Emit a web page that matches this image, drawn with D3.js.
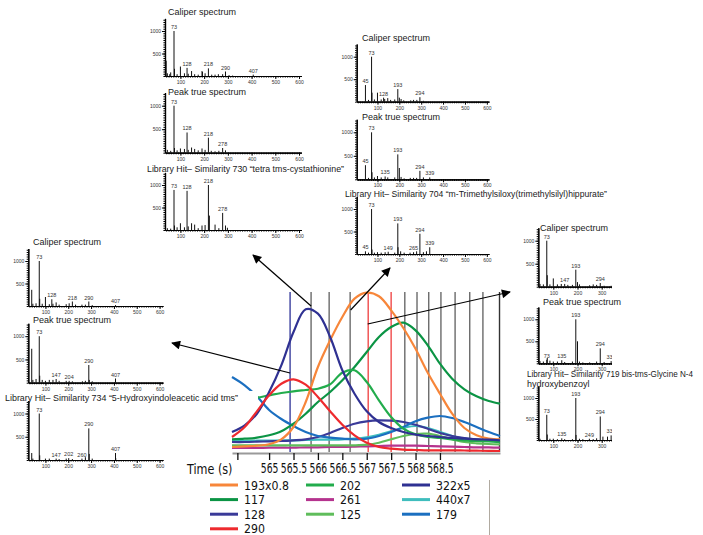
<!DOCTYPE html>
<html>
<head>
<meta charset="utf-8">
<script src="https://cdn.jsdelivr.net/npm/d3@7"></script>
<style>
body { margin: 0; background: #fff; }
svg { display: block; }
</style>
</head>
<body>
<svg width="703" height="535"></svg>
<script>
const WIDTH = 703
const HEIGHT = 535

// ion traces, sampled on one time grid (s)
const times = [564.24, 564.5, 564.75, 565, 565.25, 565.5, 565.75, 566, 566.25, 566.5, 566.75, 567, 567.25, 567.5, 567.75, 568, 568.25, 568.5, 568.75, 569, 569.25, 569.5, 569.73]
const ion193 = [5, 5.7, 6.3, 7.7, 12.7, 25, 50, 85, 111.7, 135, 153.3, 159.3, 155.7, 141.7, 124, 103.3, 79.3, 58.3, 38.3, 24, 16.7, 13.3, 12.7]
const ion117 = [12.7, 13.3, 14.3, 16.7, 20.7, 28.3, 38.3, 50, 60, 71.7, 85, 100, 115, 125, 129.3, 121.7, 106.7, 88.3, 73.3, 62.7, 55.7, 51, 48.3]
const ion128 = [10, 10, 10.3, 10.7, 11, 11.7, 12.7, 15, 19, 24, 28.3, 30.7, 31.7, 31.3, 30, 27.3, 23.3, 19, 16, 14, 12.7, 12, 11.3]
const ion290 = [15, 25, 40.7, 56.7, 68.3, 72.7, 67.3, 55, 40.7, 27.3, 16.7, 9.3, 5, 3.3, 2.3, 2, 1.7, 1.7, 1.7, 1.5, 1.3, 1.2, 1]
const ion202 = [51.7, 52.7, 54.3, 56.7, 59, 60.7, 62, 63.3, 67.7, 79.3, 81.7, 70, 51.7, 35, 23.3, 17.7, 15, 14, 12.7, 11.7, 11, 10.7, 10]
const ion261 = [4, 4, 4, 4.3, 4.3, 4.3, 4.7, 4.7, 5, 5, 5.3, 5.7, 6, 6.3, 6.3, 6.3, 6, 5.7, 5.3, 5, 4.7, 4.7, 4.3]
const ion125 = [6.7, 6.7, 6.7, 6.7, 6.7, 6.7, 6.7, 6.7, 6.7, 6.7, 6.7, 7.3, 9.3, 12.7, 16, 18, 18.3, 16, 12.7, 10, 8.7, 8, 7.7]
const ion322 = [20, 26.7, 38.3, 60, 86.7, 120, 142.7, 138.3, 115, 81.7, 58.3, 40.7, 30, 24, 20, 17.3, 16, 15, 14, 13.3, 12.7, 12.3, 11.7]
const ion440 = [11, 11, 11.3, 11.3, 11.7, 11.7, 12, 12.3, 12.3, 12.7, 13.3, 14.7, 17.3, 20.7, 24, 26, 24, 20, 16, 13.3, 11.7, 11, 10.7]
const ion179 = [75, 66.7, 55.7, 42, 33, 26, 20, 16, 14.3, 13.3, 12.7, 13.3, 16, 20, 25, 30.7, 34.3, 36, 34, 30, 25, 20, 16]

const traceNames = ['193x0.8', '117', '128', '290', '202', '261', '125', '322x5', '440x7', '179']
const traces = [ion193, ion117, ion128, ion290, ion202, ion261, ion125, ion322, ion440, ion179]
const traceColors = ['#f7863a', '#0b9444', '#3a3a98', '#ee2a2e', '#22ac4c', '#b5338e', '#5fbd5b', '#2f3192', '#3fbdbd', '#1b6fc0']
const drawOrder = [5, 6, 8, 2, 9, 1, 4, 0, 7, 3]

// scan cut positions (s)
const cutTimes = [565.43, 565.86, 566.23, 566.66, 567.03, 567.5, 567.78, 568.03, 568.27, 568.52, 568.81, 569.11, 569.38, 569.72]
const cutColors = ['#3b3f9e', '#6a6a6a', '#6a6a6a', '#6a6a6a', '#f04a4a', '#f04a4a', '#6a6a6a', '#6a6a6a', '#6a6a6a', '#6a6a6a', '#6a6a6a', '#6a6a6a', '#6a6a6a', '#333']
const timeTicks = [565, 565.5, 566, 566.5, 567, 567.5, 568, 568.5]

// spectra: [m/z, intensity]
const tlCal = [[40, 340], [45, 60], [55, 40], [59, 80], [73, 1000], [75, 160], [86, 40], [100, 210], [117, 60], [128, 180], [133, 50], [147, 110], [160, 40], [175, 30], [191, 110], [193, 90], [204, 60], [218, 170], [232, 30], [246, 30], [260, 40], [278, 40], [290, 100], [305, 20], [320, 10], [407, 30]]
const tlTrue = [[45, 60], [59, 40], [73, 1000], [75, 100], [86, 50], [100, 90], [117, 80], [128, 430], [133, 60], [147, 110], [160, 80], [175, 50], [191, 90], [204, 60], [218, 320], [230, 40], [246, 30], [262, 40], [278, 100], [290, 50]]
const tlLib = [[45, 40], [59, 30], [73, 890], [75, 100], [86, 60], [100, 150], [117, 60], [128, 870], [133, 80], [147, 150], [160, 120], [175, 40], [191, 100], [204, 110], [218, 1000], [222, 320], [246, 120], [262, 40], [278, 380], [290, 100], [298, 50]]
const tmCal = [[45, 370], [59, 40], [73, 1000], [75, 200], [86, 50], [100, 200], [117, 50], [128, 90], [133, 60], [147, 80], [160, 40], [179, 50], [193, 280], [200, 90], [208, 60], [220, 30], [252, 30], [265, 40], [280, 40], [294, 100], [310, 20]]
const tmTrue = [[45, 300], [59, 30], [73, 1000], [75, 150], [86, 40], [100, 70], [117, 40], [135, 60], [147, 40], [179, 40], [193, 530], [200, 240], [208, 50], [222, 20], [250, 30], [265, 30], [279, 30], [294, 180], [310, 40], [339, 40]]
const tmLib = [[45, 60], [59, 30], [73, 1000], [75, 100], [86, 30], [100, 40], [117, 30], [135, 40], [149, 50], [179, 30], [193, 680], [194, 150], [206, 60], [222, 30], [249, 30], [265, 40], [279, 60], [294, 450], [310, 40], [324, 60], [339, 150]]
const lCal = [[40, 360], [45, 50], [59, 60], [73, 1000], [75, 160], [86, 50], [100, 200], [117, 40], [128, 150], [133, 50], [147, 80], [160, 30], [191, 40], [204, 60], [218, 100], [232, 30], [260, 30], [275, 30], [290, 100], [305, 20], [407, 20]]
const lTrue = [[40, 730], [45, 60], [59, 80], [73, 1000], [75, 150], [86, 60], [100, 40], [117, 60], [133, 60], [147, 80], [160, 40], [191, 40], [204, 40], [218, 30], [262, 30], [275, 40], [290, 380], [292, 60], [305, 30], [407, 90]]
const lLib = [[40, 150], [45, 30], [73, 1000], [75, 100], [100, 30], [117, 30], [147, 30], [160, 20], [191, 30], [202, 40], [218, 20], [260, 30], [275, 60], [290, 680], [292, 130], [305, 30], [407, 150], [408, 40]]
const rCal = [[40, 400], [45, 60], [59, 50], [73, 1000], [75, 250], [86, 50], [100, 180], [117, 50], [133, 60], [147, 60], [160, 40], [179, 40], [193, 370], [200, 100], [208, 50], [250, 30], [265, 50], [279, 40], [294, 80], [310, 20], [339, 20]]
const rTrue = [[40, 300], [45, 50], [59, 40], [73, 80], [75, 120], [86, 60], [100, 40], [117, 40], [135, 70], [147, 30], [179, 40], [193, 1000], [200, 500], [208, 40], [222, 20], [250, 20], [279, 40], [294, 340], [310, 30], [339, 50]]
const rLib = [[45, 30], [73, 600], [75, 130], [86, 30], [100, 30], [117, 20], [135, 40], [147, 20], [179, 20], [193, 1000], [194, 120], [208, 30], [222, 20], [249, 30], [265, 20], [279, 40], [294, 560], [305, 80], [324, 80], [339, 110]]

const tlCalLabels = [73, 128, 218, 290, 407]
const tlTrueLabels = [73, 128, 218, 278]
const tlLibLabels = [73, 128, 218, 278]
const tmCalLabels = [45, 73, 128, 193, 294]
const tmTrueLabels = [45, 73, 135, 193, 294, 339]
const tmLibLabels = [45, 73, 149, 193, 265, 294, 339]
const lCalLabels = [73, 128, 218, 290, 407]
const lTrueLabels = [73, 147, 204, 290, 407]
const lLibLabels = [73, 147, 202, 260, 290, 407]
const rCalLabels = [73, 147, 193, 294]
const rTrueLabels = [73, 135, 193, 294, 339]
const rLibLabels = [73, 135, 193, 249, 294, 339]

const mzTicks = [100, 200, 300, 400, 500, 600]
const intTicks = [500, 1000]

const SANS = 'Liberation Sans, Arial, sans-serif'
const VERD = 'DejaVu Sans, Verdana, sans-serif'

const svg = d3.select('svg')

const defs = svg.append('defs')
defs.append('marker')
    .attr('id', 'head')
    .attr('viewBox', '0 0 10 10')
    .attr('refX', 9).attr('refY', 5)
    .attr('markerWidth', 10).attr('markerHeight', 9)
    .attr('markerUnits', 'userSpaceOnUse')
    .attr('orient', 'auto')
    .append('path').attr('d', 'M0,0L10,5L0,10Z').attr('fill', '#000')
defs.append('clipPath').attr('id', 'rclip')
    .append('rect').attr('x', 500).attr('y', 215).attr('width', 112).attr('height', 250)

// ---- main chart
const x = d3.scaleLinear().domain([564.24, 569.73]).range([232, 500])
const y = d3.scaleLinear().domain([0, 160]).range([452, 292])

svg.append('g')
    .selectAll('line')
    .data(cutTimes)
    .enter().append('line')
    .attr('x1', d => x(d)).attr('x2', d => x(d))
    .attr('y1', y(160)).attr('y2', y(0))
    .attr('stroke', (d, i) => cutColors[i])
    .attr('stroke-width', 1.4)

const line = d3.line()
    .x((d, i) => x(times[i]))
    .y(d => y(d))
    .curve(d3.curveCatmullRom.alpha(0.5))

svg.append('g')
    .attr('fill', 'none')
    .attr('stroke-width', 2.2)
    .selectAll('path')
    .data(drawOrder)
    .enter().append('path')
    .attr('d', i => line(traces[i]))
    .attr('stroke', i => traceColors[i])

const xAxis = svg.append('g')
    .attr('transform', `translate(0,${y(0) + 1})`)
    .call(d3.axisBottom(x).tickValues([564.35].concat(timeTicks)).tickSize(7).tickSizeOuter(0)
        .tickFormat(d => timeTicks.includes(d) ? String(d) : ''))
xAxis.select('.domain').attr('stroke', '#9a9a9a').attr('stroke-width', 2)
xAxis.selectAll('.tick line').attr('stroke', '#111').attr('stroke-width', 1.3)
xAxis.selectAll('.tick text')
    .attr('font-family', VERD).attr('font-size', 14).attr('fill', '#111')
    .attr('y', 10)
    .attr('transform', 'scale(0.66,1)')

svg.append('text')
    .attr('transform', 'translate(187,473.5) scale(0.8,1)')
    .attr('font-family', VERD).attr('font-size', 14).attr('fill', '#111')
    .text('Time (s)')

// white box behind the left library title
svg.append('rect').attr('x', 0).attr('y', 391).attr('width', 258).attr('height', 13).attr('fill', '#fff')

// ---- spectra
const spectrum = function(s) {
    const g = svg.append('g')
    if (s.clip) g.attr('clip-path', 'url(#rclip)')
    const sx = d3.scaleLinear().domain(s.mz).range([s.x0, s.x1])
    const sy = d3.scaleLinear().domain([0, 1280]).range([s.base, s.base - s.k * 1.28])
    const start = Math.ceil(s.mz[0] / 10) * 10

    g.append('g').attr('transform', `translate(0,${s.base})`)
        .call(d3.axisBottom(sx).tickValues(d3.range(start, s.mz[1], 10)).tickSize(1.6).tickSizeOuter(0).tickFormat(''))
    const ax = g.append('g').attr('transform', `translate(0,${s.base})`)
        .call(d3.axisBottom(sx).tickValues(mzTicks).tickSize(3).tickSizeOuter(0).tickPadding(1.5).tickFormat(d3.format('d')))
    ax.attr('font-size', 5).attr('font-family', SANS)
    ax.selectAll('text').attr('fill', '#333')

    g.append('g').attr('transform', `translate(${s.x0},0)`)
        .call(d3.axisLeft(sy).tickValues(d3.range(0, 1251, 50)).tickSize(1.6).tickSizeOuter(0).tickFormat(''))
    const ay = g.append('g').attr('transform', `translate(${s.x0},0)`)
        .call(d3.axisLeft(sy).tickValues(intTicks).tickSize(3).tickSizeOuter(0).tickPadding(1).tickFormat(d3.format('d')))
    ay.attr('font-size', 5).attr('font-family', SANS)
    ay.selectAll('text').attr('fill', '#333')
    g.selectAll('.domain').attr('stroke-width', 1.2)

    g.append('g')
        .attr('stroke', '#111')
        .attr('stroke-width', 1)
        .selectAll('line')
        .data(s.peaks)
        .enter().append('line')
        .attr('x1', d => sx(d[0])).attr('x2', d => sx(d[0]))
        .attr('y1', sy(0)).attr('y2', d => sy(d[1]))

    const labelled = s.peaks.filter(d => s.labels.includes(d[0]))
    g.append('g')
        .attr('font-family', SANS).attr('font-size', 5.5).attr('fill', '#333')
        .attr('text-anchor', 'middle')
        .selectAll('text')
        .data(labelled)
        .enter().append('text')
        .attr('x', d => sx(d[0]))
        .attr('y', d => sy(d[1]) - 2)
        .text(d => d[0])

    s.title.forEach((t, i) => {
        const tx = svg.append('text')
            .attr('x', s.tx).attr('y', s.ty + i * 10)
            .attr('font-family', SANS).attr('font-size', 9).attr('fill', '#1a1a1a')
            .text(t)
        if (s.fit && i === 0) tx.attr('textLength', s.fit).attr('lengthAdjust', 'spacingAndGlyphs')
    })
}

const TL = {x0: 165, x1: 301.4, mz: [35, 610]}
const TM = {x0: 356.7, x1: 489, mz: [5, 610]}
const LF = {x0: 28.3, x1: 163, mz: [25, 615]}
const RT = {x0: 538.3, x1: 674.3, mz: [38, 600], clip: true}

spectrum({...TL, base: 76, k: 45, peaks: tlCal, labels: tlCalLabels, title: ['Caliper spectrum'], tx: 168, ty: 15})
spectrum({...TL, base: 152.7, k: 47, peaks: tlTrue, labels: tlTrueLabels, title: ['Peak true spectrum'], tx: 168, ty: 95})
spectrum({...TL, base: 230, k: 45, peaks: tlLib, labels: tlLibLabels, title: ['Library Hit\u2013 Similarity 730 \u201ctetra tms-cystathionine\u201d'], tx: 147, ty: 172, fit: 197})

spectrum({...TM, base: 101.7, k: 45, peaks: tmCal, labels: tmCalLabels, title: ['Caliper spectrum'], tx: 362, ty: 41})
spectrum({...TM, base: 179.3, k: 47, peaks: tmTrue, labels: tmTrueLabels, title: ['Peak true spectrum'], tx: 362, ty: 120})
spectrum({...TM, base: 254, k: 45, peaks: tmLib, labels: tmLibLabels, title: ['Library Hit\u2013 Similarity 704 \u201cm-Trimethylsiloxy(trimethylsilyl)hippurate\u201d'], tx: 345, ty: 197, fit: 262})

spectrum({...LF, base: 306, k: 45, peaks: lCal, labels: lCalLabels, title: ['Caliper spectrum'], tx: 33, ty: 245})
spectrum({...LF, base: 382.7, k: 46.5, peaks: lTrue, labels: lTrueLabels, title: ['Peak true spectrum'], tx: 33, ty: 323})
spectrum({...LF, base: 460, k: 46.5, peaks: lLib, labels: lLibLabels, title: ['Library Hit\u2013 Similarity 734 \u201c5-Hydroxyindoleacetic acid tms\u201d'], tx: 5, ty: 401, fit: 233})

spectrum({...RT, base: 286.7, k: 46, peaks: rCal, labels: rCalLabels, title: ['Caliper spectrum'], tx: 540, ty: 231})
spectrum({...RT, base: 363.3, k: 44, peaks: rTrue, labels: rTrueLabels, title: ['Peak true spectrum'], tx: 543, ty: 305})
spectrum({...RT, base: 440, k: 42, peaks: rLib, labels: rLibLabels, title: ['Library Hit\u2013 Similarity 719 bis-tms-Glycine N-4', 'hydroxybenzoyl'], tx: 527, ty: 377, fit: 166})

// ---- arrows from the chart to the spectra
const arrows = [
    {t: 565.86, v: 146, to: [253, 255]},
    {t: 567.02, v: 128, to: [510, 292]},
    {t: 566.67, v: 142, to: [390, 268]},
    {t: 565.43, v: 79, to: [172, 343]}
]
svg.append('g')
    .selectAll('line')
    .data(arrows)
    .enter().append('line')
    .attr('x1', d => x(d.t)).attr('y1', d => y(d.v))
    .attr('x2', d => d.to[0]).attr('y2', d => d.to[1])
    .attr('stroke', '#000').attr('stroke-width', 1.2)
    .attr('marker-end', 'url(#head)')

// ---- legend
const legend = svg.append('g')
    .selectAll('g')
    .data(traceNames)
    .enter().append('g')
    .attr('transform', (d, i) => {
        const col = i < 4 ? 0 : i < 7 ? 1 : 2
        const row = i < 4 ? i : i < 7 ? i - 4 : i - 7
        return `translate(${210 + col * 96},${485 + row * 14.6})`
    })
legend.append('line')
    .attr('x1', 0).attr('x2', 28)
    .attr('stroke', (d, i) => traceColors[i])
    .attr('stroke-width', 3)
legend.append('text')
    .attr('transform', 'translate(34,4.5) scale(0.88,1)')
    .attr('font-family', VERD).attr('font-size', 12.5).attr('fill', '#111')
    .text(d => d)

svg.append('line')
    .attr('x1', 489.5).attr('x2', 489.5).attr('y1', 480).attr('y2', 535)
    .attr('stroke', '#b0aaa0').attr('stroke-width', 1)
</script>
</body>
</html>
